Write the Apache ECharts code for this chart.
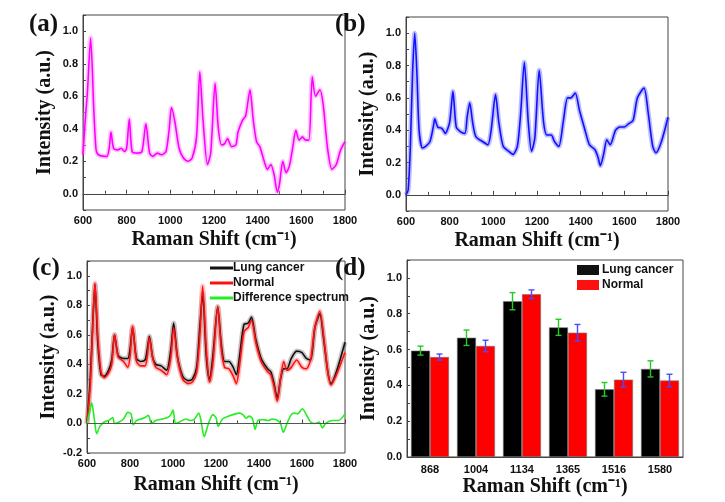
<!DOCTYPE html>
<html>
<head>
<meta charset="utf-8">
<script src="https://cdn.jsdelivr.net/npm/echarts@6/dist/echarts.min.js"></script>
<style>
  html, body { margin: 0; padding: 0; background: #fff; }
  #main { width: 725px; height: 502px; }
</style>
</head>
<body>
<div id="main"></div>
<script>
// (a) lung cancer mean spectrum [shift, intensity]
var specA = [[600,0.24],[610,0.45],[620,0.62],[635,0.96],[650,0.5],[660,0.27],[670,0.24],[700,0.23],[710,0.23],[720,0.28],[728,0.38],[740,0.28],[760,0.27],[775,0.28],[790,0.26],[800,0.28],[812,0.46],[825,0.26],[850,0.25],[870,0.26],[888,0.43],[905,0.25],[920,0.23],[940,0.25],[960,0.24],[980,0.26],[995,0.4],[1005,0.53],[1020,0.45],[1040,0.28],[1060,0.22],[1080,0.2],[1100,0.22],[1120,0.35],[1135,0.75],[1150,0.45],[1170,0.18],[1185,0.25],[1205,0.68],[1220,0.4],[1235,0.3],[1250,0.31],[1262,0.34],[1280,0.29],[1300,0.3],[1310,0.38],[1330,0.45],[1345,0.48],[1365,0.64],[1380,0.45],[1395,0.32],[1410,0.29],[1430,0.2],[1445,0.15],[1460,0.18],[1475,0.12],[1490,0.01],[1500,0.06],[1515,0.2],[1530,0.13],[1545,0.17],[1560,0.28],[1575,0.39],[1590,0.33],[1605,0.35],[1620,0.33],[1635,0.33],[1650,0.72],[1665,0.6],[1685,0.64],[1700,0.55],[1720,0.28],[1740,0.15],[1760,0.18],[1780,0.27],[1800,0.32]];

// (b) normal mean spectrum
var specB = [[600,0.0],[610,0.03],[620,0.3],[630,0.75],[640,1.0],[650,0.75],[660,0.4],[675,0.29],[690,0.3],[710,0.33],[725,0.42],[732,0.47],[745,0.42],[765,0.41],[780,0.38],[800,0.45],[815,0.64],[830,0.42],[850,0.39],[870,0.38],[880,0.48],[892,0.57],[905,0.45],[920,0.36],[950,0.33],[975,0.31],[990,0.4],[1010,0.62],[1025,0.45],[1045,0.3],[1070,0.27],[1090,0.25],[1110,0.3],[1125,0.5],[1142,0.82],[1160,0.45],[1175,0.27],[1190,0.35],[1210,0.77],[1230,0.45],[1245,0.37],[1265,0.37],[1280,0.33],[1300,0.3],[1320,0.45],[1340,0.6],[1355,0.6],[1375,0.63],[1395,0.52],[1420,0.4],[1440,0.31],[1465,0.28],[1480,0.23],[1490,0.18],[1505,0.25],[1520,0.34],[1535,0.31],[1560,0.4],[1580,0.42],[1600,0.42],[1620,0.44],[1640,0.46],[1660,0.6],[1690,0.66],[1710,0.5],[1730,0.3],[1745,0.26],[1770,0.33],[1800,0.48]];

// (c) comparison
var cancerC = [[600,0.0],[615,0.3],[628,0.72],[637,0.94],[650,0.55],[665,0.33],[680,0.32],[700,0.36],[715,0.43],[728,0.6],[745,0.46],[770,0.44],[790,0.44],[800,0.5],[812,0.65],[830,0.44],[850,0.42],[870,0.43],[880,0.5],[890,0.59],[905,0.45],[920,0.4],[945,0.39],[970,0.36],[990,0.5],[1003,0.68],[1020,0.46],[1045,0.32],[1070,0.29],[1090,0.3],[1110,0.38],[1125,0.66],[1138,0.88],[1155,0.45],[1170,0.29],[1185,0.45],[1208,0.79],[1225,0.53],[1240,0.42],[1260,0.42],[1280,0.38],[1295,0.33],[1310,0.46],[1330,0.67],[1350,0.68],[1365,0.72],[1385,0.57],[1410,0.44],[1440,0.37],[1455,0.35],[1470,0.27],[1485,0.17],[1500,0.3],[1515,0.37],[1530,0.37],[1550,0.44],[1575,0.49],[1600,0.48],[1620,0.44],[1640,0.43],[1660,0.65],[1683,0.74],[1700,0.58],[1720,0.35],[1735,0.27],[1760,0.35],[1800,0.55]];
var normalC = [[600,0.0],[615,0.25],[628,0.7],[637,0.95],[650,0.6],[665,0.35],[680,0.31],[700,0.34],[715,0.4],[728,0.6],[745,0.45],[770,0.42],[790,0.38],[800,0.45],[812,0.66],[830,0.42],[850,0.39],[870,0.39],[880,0.45],[890,0.58],[905,0.45],[920,0.38],[945,0.36],[970,0.33],[990,0.45],[1003,0.65],[1020,0.45],[1045,0.3],[1070,0.27],[1090,0.28],[1110,0.35],[1125,0.6],[1138,0.93],[1155,0.5],[1170,0.28],[1185,0.4],[1208,0.79],[1225,0.5],[1240,0.38],[1260,0.37],[1280,0.32],[1295,0.27],[1310,0.4],[1330,0.62],[1350,0.65],[1365,0.7],[1385,0.55],[1410,0.42],[1440,0.35],[1455,0.33],[1470,0.25],[1485,0.15],[1500,0.3],[1515,0.42],[1530,0.36],[1550,0.38],[1575,0.43],[1600,0.38],[1620,0.37],[1640,0.43],[1660,0.65],[1683,0.76],[1700,0.6],[1720,0.35],[1735,0.26],[1760,0.33],[1800,0.48]];
var diffC = [[600,0.0],[615,0.1],[622,0.14],[635,0.02],[645,-0.07],[660,-0.02],[680,0.01],[700,0.02],[720,0.04],[728,0.0],[750,0.01],[770,0.03],[790,0.075],[805,0.065],[815,-0.01],[830,0.02],[850,0.03],[870,0.04],[885,0.055],[900,0.0],[920,0.02],[950,0.03],[975,0.04],[990,0.06],[1000,0.09],[1012,0.0],[1030,0.01],[1060,0.03],[1080,0.02],[1100,0.03],[1120,0.07],[1130,0.02],[1145,-0.09],[1165,0.0],[1185,0.06],[1200,0.04],[1210,-0.02],[1230,0.03],[1260,0.05],[1290,0.065],[1310,0.07],[1325,0.06],[1340,0.035],[1355,0.05],[1370,0.03],[1382,-0.04],[1395,0.02],[1420,0.025],[1445,0.02],[1460,0.03],[1480,0.025],[1500,0.0],[1513,-0.06],[1530,0.0],[1550,0.06],[1565,0.07],[1580,0.065],[1602,0.1],[1620,0.06],[1640,0.01],[1660,0.0],[1680,0.01],[1695,-0.03],[1710,0.0],[1740,0.02],[1770,0.02],[1800,0.065]];

// (d) band intensities
var bandsD = ['868', '1004', '1134', '1365', '1516', '1580'];
var lungD = [0.594, 0.666, 0.87, 0.724, 0.378, 0.492];
var normalD = [0.558, 0.62, 0.909, 0.694, 0.432, 0.427];
var errLungD = [0.025, 0.043, 0.048, 0.045, 0.038, 0.045];
var errNormalD = [0.017, 0.032, 0.024, 0.046, 0.041, 0.035];

var chart = echarts.init(document.getElementById('main'));

var ink = '#111';
var axisInk = '#444';
var serif = 'Liberation Serif';
var sans = 'Liberation Sans';

function nameStyle() {
  return { fontFamily: serif, fontWeight: 'bold', fontSize: 20, color: ink };
}
function labelStyle(extra) {
  var s = { color: ink, fontFamily: sans, fontWeight: 'bold', fontSize: 11 };
  for (var k in extra) s[k] = extra[k];
  return s;
}
function shiftAxis(gi, gap) {
  return {
    type: 'value', gridIndex: gi, min: 600, max: 1800, interval: 200,
    name: 'Raman Shift (cm⁻¹)', nameLocation: 'middle', nameGap: gap,
    nameTextStyle: nameStyle(),
    axisLine: { lineStyle: { color: axisInk } },
    axisTick: { inside: true, length: 4, lineStyle: { color: axisInk } },
    minorTick: { show: true, splitNumber: 2, length: 3, lineStyle: { color: axisInk } },
    splitLine: { show: false },
    axisLabel: labelStyle({ margin: 5, formatter: function (v) { return String(v); } })
  };
}
function intensityAxis(gi, min, max) {
  return {
    type: 'value', gridIndex: gi, min: min, max: max, interval: 0.1,
    name: 'Intensity (a.u.)', nameLocation: 'middle', nameGap: 28,
    nameTextStyle: nameStyle(),
    axisLine: { show: true, lineStyle: { color: axisInk } },
    axisTick: { show: true, inside: true, length: 3, lineStyle: { color: axisInk } },
    splitLine: { show: false },
    axisLabel: labelStyle({
      margin: 5,
      formatter: function (v) {
        return Math.round(v * 10) % 2 === 0 ? v.toFixed(1) : '';
      }
    })
  };
}
function spectrum(name, data, color, gi, shade) {
  return [{
    name: name + ' sd', type: 'line', xAxisIndex: gi, yAxisIndex: gi,
    data: data, symbol: 'none', smooth: 0.25, silent: true, z: 1,
    lineStyle: { color: shade, width: 5, opacity: 0.45 }
  }, {
    name: name, type: 'line', xAxisIndex: gi, yAxisIndex: gi,
    data: data, symbol: 'none', smooth: 0.25, z: 3,
    itemStyle: { color: color },
    lineStyle: { color: color, width: 1.6 }
  }];
}
function errorBars(values, errs, offset, color) {
  return {
    type: 'custom', xAxisIndex: 3, yAxisIndex: 3, z: 5, silent: true,
    data: values.map(function (v, i) { return [i, v - errs[i], v + errs[i]]; }),
    encode: { x: 0, y: [1, 2] },
    renderItem: function (params, api) {
      var lo = api.coord([api.value(0), api.value(1)]);
      var hi = api.coord([api.value(0), api.value(2)]);
      var x = lo[0] + offset;
      var st = { stroke: color, lineWidth: 1.4 };
      return {
        type: 'group',
        children: [
          { type: 'line', shape: { x1: x, y1: lo[1], x2: x, y2: hi[1] }, style: st },
          { type: 'line', shape: { x1: x - 3, y1: lo[1], x2: x + 3, y2: lo[1] }, style: st },
          { type: 'line', shape: { x1: x - 3, y1: hi[1], x2: x + 3, y2: hi[1] }, style: st }
        ]
      };
    }
  };
}

var gridBox = { show: true, borderColor: axisInk, borderWidth: 1, containLabel: false };

var series = []
  .concat(spectrum('Lung cancer (a)', specA, '#ff00ff', 0, '#ff88ff'))
  .concat(spectrum('Normal (b)', specB, '#1010ff', 1, '#6f6fff'))
  .concat(spectrum('Lung cancer', cancerC, '#111111', 2, '#888888'))
  .concat(spectrum('Normal', normalC, '#ff1010', 2, '#ff8080'));

series.push({
  name: 'Difference spectrum', type: 'line', xAxisIndex: 2, yAxisIndex: 2,
  data: diffC, symbol: 'none', smooth: 0.25, z: 4,
  itemStyle: { color: '#22ee22' },
  lineStyle: { color: '#22ee22', width: 1.6 },
  markLine: {
    silent: true, symbol: ['none', 'none'], label: { show: false },
    lineStyle: { color: '#555', width: 1, type: 'solid' },
    data: [{ yAxis: 0 }]
  }
});

series.push({
  name: 'Lung cancer', type: 'bar', xAxisIndex: 3, yAxisIndex: 3,
  data: lungD, barWidth: 19, barGap: '0%',
  itemStyle: { color: '#000', borderColor: '#777', borderWidth: 0.6 }
});
series.push({
  name: 'Normal', type: 'bar', xAxisIndex: 3, yAxisIndex: 3,
  data: normalD, barWidth: 19, barGap: '0%',
  itemStyle: { color: '#ff0000', borderColor: '#777', borderWidth: 0.6 }
});
series.push(errorBars(lungD, errLungD, -9.5, '#22cc22'));
series.push(errorBars(normalD, errNormalD, 9.5, '#4a4aff'));

var panelText = function (txt, x, y) {
  return {
    type: 'text', left: x, top: y,
    style: { text: txt, fontFamily: serif, fontWeight: 'bold', fontSize: 25, fill: ink }
  };
};

var option = {
  backgroundColor: '#fff',
  animation: false,
  grid: [
    Object.assign({ left: 83, top: 15, width: 262, height: 195 }, gridBox),
    Object.assign({ left: 406, top: 17, width: 262, height: 194 }, gridBox),
    Object.assign({ left: 87, top: 261, width: 258, height: 192 }, gridBox),
    Object.assign({ left: 407, top: 260, width: 276, height: 197 }, gridBox)
  ],
  xAxis: [
    shiftAxis(0, 20),
    shiftAxis(1, 20),
    shiftAxis(2, 22),
    {
      type: 'category', gridIndex: 3, data: bandsD,
      name: 'Raman Shift (cm⁻¹)', nameLocation: 'middle', nameGap: 20,
      nameTextStyle: nameStyle(),
      axisLine: { lineStyle: { color: axisInk } },
      axisTick: { show: false },
      axisLabel: labelStyle({ margin: 7 })
    }
  ],
  yAxis: [
    intensityAxis(0, -0.1, 1.1),
    intensityAxis(1, -0.1, 1.1),
    intensityAxis(2, -0.2, 1.1),
    intensityAxis(3, 0, 1.1)
  ],
  legend: [{
    data: ['Lung cancer', 'Normal', 'Difference spectrum'],
    orient: 'vertical', left: 205, top: 257,
    icon: 'rect', itemWidth: 23, itemHeight: 3, itemGap: 3,
    textStyle: { color: ink, fontFamily: sans, fontWeight: 'bold', fontSize: 12, padding: [0, 0, 0, -5] }
  }, {
    data: ['Lung cancer', 'Normal'],
    orient: 'vertical', left: 572, top: 259,
    icon: 'rect', itemWidth: 22, itemHeight: 10, itemGap: 3,
    textStyle: { color: ink, fontFamily: sans, fontWeight: 'bold', fontSize: 12, padding: [0, 0, 0, -2] }
  }],
  graphic: [
    panelText('(a)', 29, 12),
    panelText('(b)', 335, 12),
    panelText('(c)', 32, 256),
    panelText('(d)', 335, 256)
  ],
  series: series
};

chart.setOption(option);
</script>
</body>
</html>
